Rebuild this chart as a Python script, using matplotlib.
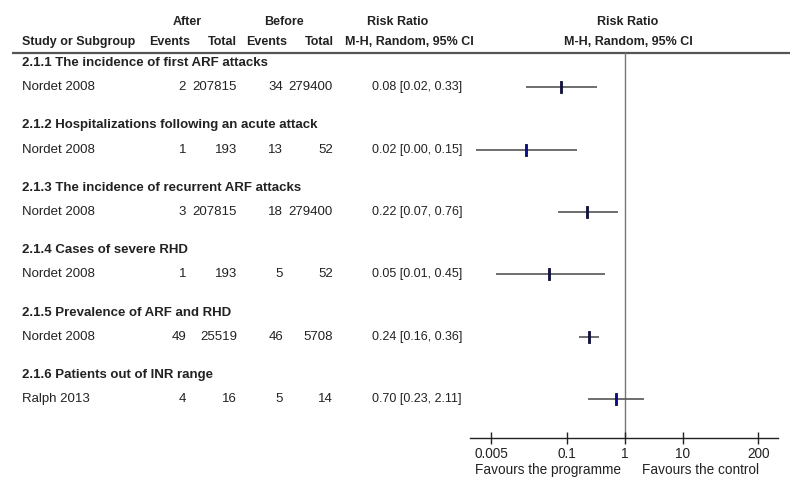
import numpy as np
import matplotlib
matplotlib.use("Agg")
import matplotlib.pyplot as plt
from matplotlib.path import Path

plt.rcParams['font.family'] = ['Liberation Sans', 'DejaVu Sans']

# ---------------- data ----------------
subgroups = ["2.1.1 The incidence of first ARF attacks",
             "2.1.2 Hospitalizations following an acute attack",
             "2.1.3 The incidence of recurrent ARF attacks",
             "2.1.4 Cases of severe RHD",
             "2.1.5 Prevalence of ARF and RHD",
             "2.1.6 Patients out of INR range"]
studies = ["Nordet 2008", "Nordet 2008", "Nordet 2008", "Nordet 2008", "Nordet 2008", "Ralph 2013"]
after_events = [2, 1, 3, 1, 49, 4]
after_total = [207815, 193, 207815, 193, 25519, 16]
before_events = [34, 13, 18, 5, 46, 5]
before_total = [279400, 52, 279400, 52, 5708, 14]
rr = [0.08, 0.02, 0.22, 0.05, 0.24, 0.70]
ci_low = [0.02, 0.0027, 0.07, 0.006, 0.16, 0.23]
ci_high = [0.33, 0.15, 0.76, 0.45, 0.36, 2.11]
tick_values = [0.005, 0.1, 1, 10, 200]
tick_labels = ["0.005", "0.1", "1", "10", "200"]

# ---------------- layout ----------------
W, H = 800, 488
fig = plt.figure(figsize=(8, 4.88), dpi=100)
main = fig.add_axes([0, 0, 1, 1])
main.set_xlim(0, W)
main.set_ylim(H, 0)
main.axis('off')

txt = '#222222'
fs = 9.5
fsb = 9
fsg = 9.5

# header
main.text(187, 22, "After", ha='center', va='center', fontsize=fsb, fontweight='bold', color=txt)
main.text(284, 22, "Before", ha='center', va='center', fontsize=fsb, fontweight='bold', color=txt)
main.text(398, 22, "Risk Ratio", ha='center', va='center', fontsize=fsb, fontweight='bold', color=txt)
main.text(628, 22, "Risk Ratio", ha='center', va='center', fontsize=fsb, fontweight='bold', color=txt)
main.text(22, 42, "Study or Subgroup", ha='left', va='center', fontsize=fsb, fontweight='bold', color=txt)
main.text(190, 42, "Events", ha='right', va='center', fontsize=fsb, fontweight='bold', color=txt)
main.text(237, 42, "Total", ha='right', va='center', fontsize=fsb, fontweight='bold', color=txt)
main.text(287, 42, "Events", ha='right', va='center', fontsize=fsb, fontweight='bold', color=txt)
main.text(334, 42, "Total", ha='right', va='center', fontsize=fsb, fontweight='bold', color=txt)
main.text(345, 42, "M-H, Random, 95% CI", ha='left', va='center', fontsize=fsb, fontweight='bold', color=txt)
main.text(628, 42, "M-H, Random, 95% CI", ha='center', va='center', fontsize=fsb, fontweight='bold', color=txt)
main.plot([12, 790], [53, 53], color='#555555', lw=1.6, solid_capstyle='butt')

def y_head(i):
    return 63 + 62.4 * i

def y_row(i):
    return y_head(i) + 24.2

for i in range(len(subgroups)):
    main.text(22, y_head(i), subgroups[i], ha='left', va='center', fontsize=fsg, fontweight='bold', color=txt)
    yr = y_row(i)
    main.text(22, yr, studies[i], ha='left', va='center', fontsize=fs, color=txt)
    main.text(186, yr, str(after_events[i]), ha='right', va='center', fontsize=fs, color=txt)
    main.text(237, yr, str(after_total[i]), ha='right', va='center', fontsize=fs, color=txt)
    main.text(283, yr, str(before_events[i]), ha='right', va='center', fontsize=fs, color=txt)
    main.text(333, yr, str(before_total[i]), ha='right', va='center', fontsize=fs, color=txt)
    main.text(372, yr, f"{rr[i]:.2f} [{ci_low[i]:.2f}, {ci_high[i]:.2f}]",
              ha='left', va='center', fontsize=9.0, color=txt)

# ---------------- forest axes ----------------
x0, x1 = 470, 778
y_top, y_axis = 53, 438
one_px = 624.7
dec = 58.0
fx = fig.add_axes([x0 / W, 1 - y_axis / H, (x1 - x0) / W, (y_axis - y_top) / H])
fx.set_xscale('log')
fx.set_xlim(10 ** ((x0 - one_px) / dec), 10 ** ((x1 - one_px) / dec))
fx.set_ylim(y_axis, y_top)
fx.patch.set_alpha(0)
for s in ['top', 'left', 'right']:
    fx.spines[s].set_visible(False)
fx.spines['bottom'].set_color('#222222')
fx.spines['bottom'].set_linewidth(1.0)
fx.set_yticks([])
fx.set_xticks(tick_values)
fx.set_xticklabels(tick_labels)
fx.xaxis.set_minor_locator(matplotlib.ticker.NullLocator())
fx.tick_params(axis='x', direction='inout', length=9, width=1.0, color='#222222',
               labelsize=9.8, labelcolor=txt, pad=2)

fx.axvline(1, color='#777777', lw=1.0, zorder=1)

rect = Path([(-0.12, -0.5), (0.12, -0.5), (0.12, 0.5), (-0.12, 0.5), (-0.12, -0.5)],
            [Path.MOVETO, Path.LINETO, Path.LINETO, Path.LINETO, Path.CLOSEPOLY])
for i in range(len(rr)):
    yr = y_row(i)
    fx.plot([ci_low[i], ci_high[i]], [yr, yr], color='#555555', lw=1.2, zorder=2,
            solid_capstyle='butt')
    fx.plot([rr[i]], [yr], marker=rect, markersize=8.6, markerfacecolor='#0a0a8c',
            markeredgecolor='#111133', markeredgewidth=0.6, linestyle='none', zorder=3)

main.text(621, 470, "Favours the programme", ha='right', va='center', fontsize=9.8, color=txt)
main.text(642, 470, "Favours the control", ha='left', va='center', fontsize=9.8, color=txt)

fig.savefig("out.png", dpi=100)
